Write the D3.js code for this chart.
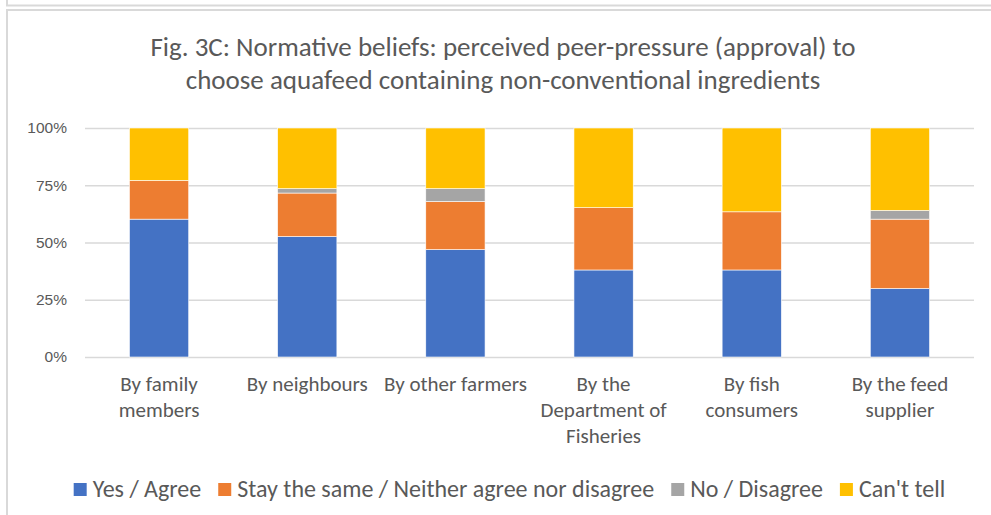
<!DOCTYPE html>
<html>
<head>
<meta charset="utf-8">
<script src="https://cdn.jsdelivr.net/npm/d3@7"></script>
<style>
	body { margin: 0; background: #fff; }
	svg { display: block; font-family: Carlito, Calibri, Lato, sans-serif; }
</style>
</head>
<body>
<div id="chart"></div>
<script>
//chart data
var categories = [
	["By family", "members"],
	["By neighbours"],
	["By other farmers"],
	["By the", "Department of", "Fisheries"],
	["By fish", "consumers"],
	["By the feed", "supplier"]
];
var seriesNames = ["Yes / Agree", "Stay the same / Neither agree nor disagree", "No / Disagree", "Can't tell"];
var yesAgree = [60.2, 52.6, 46.9, 38.0, 38.0, 29.9];
var neither = [16.9, 19.0, 21.0, 27.2, 25.4, 30.3];
var disagree = [0, 1.9, 5.6, 0, 0, 3.8];
var cantTell = [22.9, 26.5, 26.5, 34.8, 36.6, 36.0];
var yTicks = [0, 25, 50, 75, 100];
var titleLines = ["Fig. 3C: Normative beliefs: perceived peer-pressure (approval) to",
	"choose aquafeed containing non-conventional ingredients"];

var colours = ["#4472C4", "#ED7D31", "#A5A5A5", "#FFC000"];

//frame dimensions
var width = 991,
	height = 515,
	plotLeft = 85,
	plotRight = 974,
	plotTop = 128,
	plotBottom = 357,
	textColour = "#595959",
	gridColour = "#d9d9d9";

var svg = d3.select("#chart")
	.append("svg")
	.attr("width", width)
	.attr("height", height);

//borders of the chart area (and the one above it)
svg.append("path")
	.attr("d", "M7,0V5.5H" + width)
	.attr("fill", "none")
	.attr("stroke", gridColour)
	.attr("stroke-width", 2);
svg.append("path")
	.attr("d", "M7," + height + "V10H" + width)
	.attr("fill", "none")
	.attr("stroke", gridColour)
	.attr("stroke-width", 2);

//title
svg.append("text")
	.attr("x", 503)
	.attr("y", 56)
	.attr("text-anchor", "middle")
	.style("font-size", "27px")
	.style("fill", textColour)
	.selectAll("tspan")
	.data(titleLines)
	.enter()
	.append("tspan")
		.attr("x", 503)
		.attr("dy", function(d, i) { return i == 0 ? 0 : 33; })
		.text(function(d) { return d; });

//scales
var x = d3.scaleBand()
	.domain(d3.range(categories.length))
	.range([plotLeft, plotRight])
	.paddingInner(0.6)
	.paddingOuter(0.3);

var y = d3.scaleLinear()
	.domain([0, 100])
	.range([plotBottom, plotTop]);

//gridlines and y axis
var yAxis = svg.append("g")
	.attr("transform", "translate(" + plotLeft + ",0)")
	.call(d3.axisLeft(y)
		.tickValues(yTicks)
		.tickSize(-(plotRight - plotLeft))
		.tickPadding(18)
		.tickFormat(function(d) { return d + "%"; }));
yAxis.select(".domain").remove();
yAxis.selectAll("line")
	.attr("stroke", gridColour)
	.attr("stroke-width", 1.5);
yAxis.selectAll("text")
	.attr("fill", textColour)
	.style("font-size", "15.5px")
	.style("font-family", null);

//stack the series
var rows = categories.map(function(c, i) {
	return { i: i, s0: yesAgree[i], s1: neither[i], s2: disagree[i], s3: cantTell[i] };
});
var stack = d3.stack().keys(["s0", "s1", "s2", "s3"]);
var layers = stack(rows);

svg.append("g")
	.selectAll("g")
	.data(layers)
	.enter()
	.append("g")
		.attr("fill", function(d, i) { return colours[i]; })
	.selectAll("rect")
	.data(function(d) { return d; })
	.enter()
	.append("rect")
		.filter(function(d) { return d[1] - d[0] > 0; })
		.attr("x", function(d) { return x(d.data.i); })
		.attr("width", x.bandwidth())
		.attr("y", function(d) { return y(d[1]); })
		.attr("height", function(d) { return y(d[0]) - y(d[1]); })
		.attr("stroke", "#fff")
		.attr("stroke-width", 0.6);

//category labels
var catLabels = svg.append("g")
	.selectAll("text")
	.data(categories)
	.enter()
	.append("text")
		.attr("text-anchor", "middle")
		.attr("y", 391)
		.style("font-size", "21px")
		.style("fill", textColour);
catLabels.selectAll("tspan")
	.data(function(d, i) { return d.map(function(t) { return { t: t, i: i }; }); })
	.enter()
	.append("tspan")
		.attr("x", function(d) { return x(d.i) + x.bandwidth() / 2; })
		.attr("dy", function(d, j) { return j == 0 ? 0 : 26; })
		.text(function(d) { return d.t; });

//legend, laid out in a centred row
var legend = svg.append("g");
var legendX = 0;
seriesNames.forEach(function(name, i) {
	var item = legend.append("g").attr("transform", "translate(" + legendX + ",0)");
	item.append("rect")
		.attr("x", 0)
		.attr("y", -14)
		.attr("width", 13)
		.attr("height", 13)
		.attr("fill", colours[i]);
	var t = item.append("text")
		.attr("x", 19)
		.attr("y", 0)
		.style("font-size", "24px")
		.style("fill", textColour)
		.text(name);
	legendX += 19 + t.node().getComputedTextLength() + 17;
});
legendX -= 17;
legend.attr("transform", "translate(" + (509.5 - legendX / 2) + ",497)");
</script>
</body>
</html>
